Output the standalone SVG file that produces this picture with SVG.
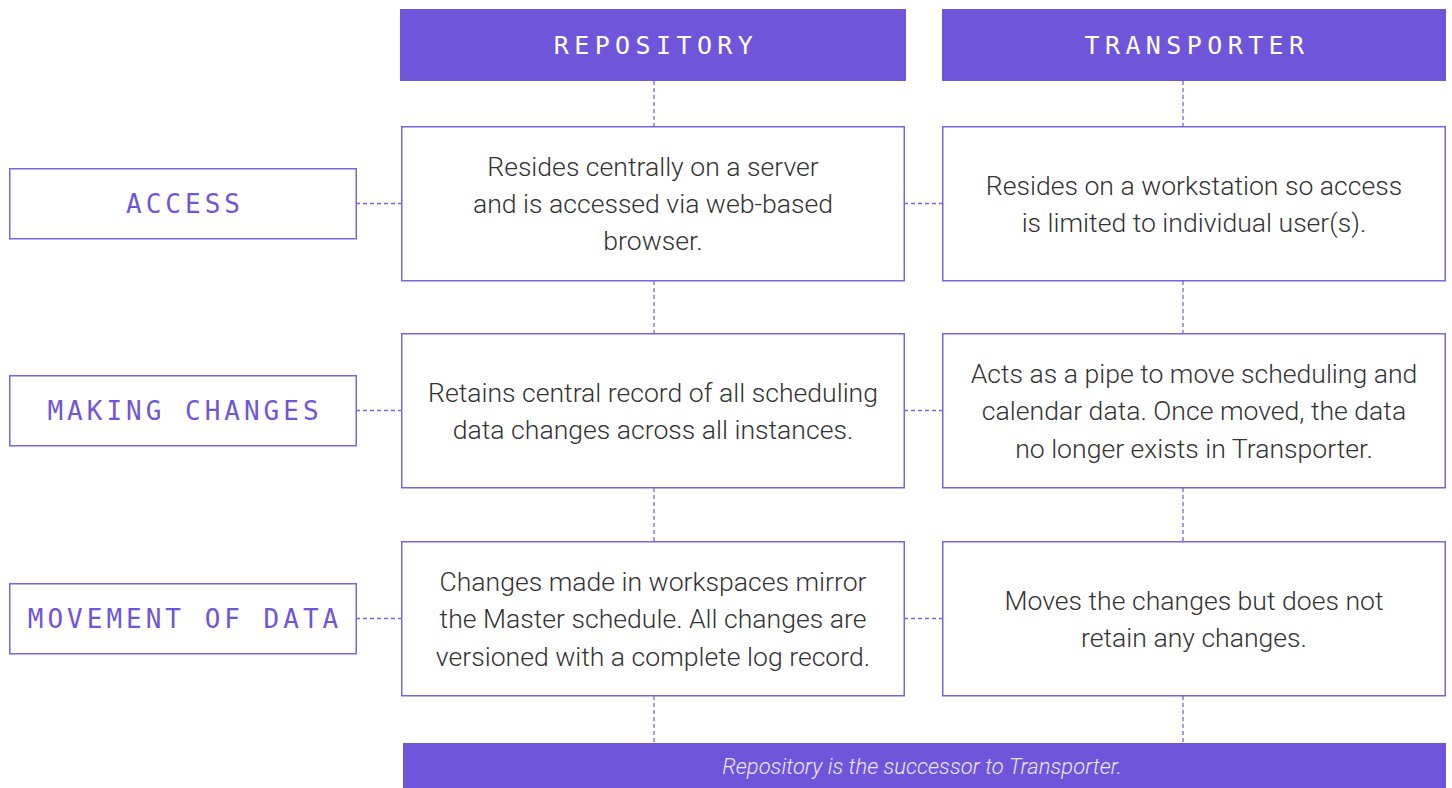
<svg xmlns="http://www.w3.org/2000/svg" width="1452" height="788" viewBox="0 0 1452 788">
  <style>
    .hdr { fill: #6f55d9; }
    .hdr-t { fill: #ffffff; font-family: "DejaVu Sans Mono", "Liberation Mono", monospace; font-size: 25px; letter-spacing: 5.4px; text-anchor: middle; }
    .lbl { fill: #ffffff; stroke: #7a64dc; stroke-width: 1.5; }
    .lbl-t { fill: #6f55d9; font-family: "DejaVu Sans Mono", "Liberation Mono", monospace; font-size: 26px; letter-spacing: 4px; text-anchor: middle; }
    .box { fill: #ffffff; stroke: #7a64dc; stroke-width: 1.5; }
    .box-t { fill: #333333; font-family: Roboto, "Liberation Sans", sans-serif; font-weight: 300; font-size: 26.6px; text-anchor: middle; }
    .conn { stroke: #7a64dc; stroke-width: 1.3; stroke-dasharray: 4 3; fill: none; }
    .foot-t { fill: #ece8fb; font-family: Roboto, "Liberation Sans", sans-serif; font-style: italic; font-weight: 300; font-size: 22px; text-anchor: middle; }
  </style>

  <!-- dashed connectors -->
  <g id="connectors">
    <line class="conn" x1="654" y1="81" x2="654" y2="126"/>
    <line class="conn" x1="654" y1="281" x2="654" y2="333"/>
    <line class="conn" x1="654" y1="488" x2="654" y2="541"/>
    <line class="conn" x1="654" y1="696" x2="654" y2="743"/>
    <line class="conn" x1="1183" y1="81" x2="1183" y2="126"/>
    <line class="conn" x1="1183" y1="281" x2="1183" y2="333"/>
    <line class="conn" x1="1183" y1="488" x2="1183" y2="541"/>
    <line class="conn" x1="1183" y1="696" x2="1183" y2="743"/>
    <line class="conn" x1="356" y1="203.5" x2="401" y2="203.5"/>
    <line class="conn" x1="904" y1="203.5" x2="942" y2="203.5"/>
    <line class="conn" x1="356" y1="410.5" x2="401" y2="410.5"/>
    <line class="conn" x1="904" y1="410.5" x2="942" y2="410.5"/>
    <line class="conn" x1="356" y1="618.5" x2="401" y2="618.5"/>
    <line class="conn" x1="904" y1="618.5" x2="942" y2="618.5"/>
  </g>

  <!-- column headers -->
  <g id="hdr-repository">
    <rect class="hdr" x="400" y="9" width="506" height="72"/>
    <text class="hdr-t" x="656" y="54">REPOSITORY</text>
  </g>
  <g id="hdr-transporter">
    <rect class="hdr" x="942" y="9" width="504" height="72"/>
    <text class="hdr-t" x="1197" y="54">TRANSPORTER</text>
  </g>

  <!-- row labels -->
  <g id="lbl-access">
    <rect class="lbl" x="9.75" y="168.75" width="346.5" height="70"/>
    <text class="lbl-t" x="185" y="213">ACCESS</text>
  </g>
  <g id="lbl-making-changes">
    <rect class="lbl" x="9.75" y="375.75" width="346.5" height="70"/>
    <text class="lbl-t" x="185" y="420">MAKING CHANGES</text>
  </g>
  <g id="lbl-movement">
    <rect class="lbl" x="9.75" y="583.75" width="346.5" height="70"/>
    <text class="lbl-t" x="185" y="628">MOVEMENT OF DATA</text>
  </g>

  <!-- repository cells -->
  <g id="repo-access">
    <rect class="box" x="401.75" y="126.75" width="502.5" height="154"/>
    <text class="box-t" x="653" y="176">Resides centrally on a server</text>
    <text class="box-t" x="653" y="213">and is accessed via web-based</text>
    <text class="box-t" x="653" y="250">browser.</text>
  </g>
  <g id="repo-changes">
    <rect class="box" x="401.75" y="333.75" width="502.5" height="154"/>
    <text class="box-t" x="653" y="402">Retains central record of all scheduling</text>
    <text class="box-t" x="653" y="439">data changes across all instances.</text>
  </g>
  <g id="repo-movement">
    <rect class="box" x="401.75" y="541.75" width="502.5" height="154"/>
    <text class="box-t" x="653" y="591">Changes made in workspaces mirror</text>
    <text class="box-t" x="653" y="628">the Master schedule. All changes are</text>
    <text class="box-t" x="653" y="666">versioned with a complete log record.</text>
  </g>

  <!-- transporter cells -->
  <g id="trans-access">
    <rect class="box" x="942.75" y="126.75" width="502.5" height="154"/>
    <text class="box-t" x="1194" y="195">Resides on a workstation so access</text>
    <text class="box-t" x="1194" y="232">is limited to individual user(s).</text>
  </g>
  <g id="trans-changes">
    <rect class="box" x="942.75" y="333.75" width="502.5" height="154"/>
    <text class="box-t" x="1194" y="383">Acts as a pipe to move scheduling and</text>
    <text class="box-t" x="1194" y="420">calendar data. Once moved, the data</text>
    <text class="box-t" x="1194" y="458">no longer exists in Transporter.</text>
  </g>
  <g id="trans-movement">
    <rect class="box" x="942.75" y="541.75" width="502.5" height="154"/>
    <text class="box-t" x="1194" y="610">Moves the changes but does not</text>
    <text class="box-t" x="1194" y="647">retain any changes.</text>
  </g>

  <!-- footer note -->
  <g id="footer">
    <rect class="hdr" x="403" y="743" width="1043" height="45"/>
    <text class="foot-t" x="922" y="774">Repository is the successor to Transporter.</text>
  </g>
</svg>
